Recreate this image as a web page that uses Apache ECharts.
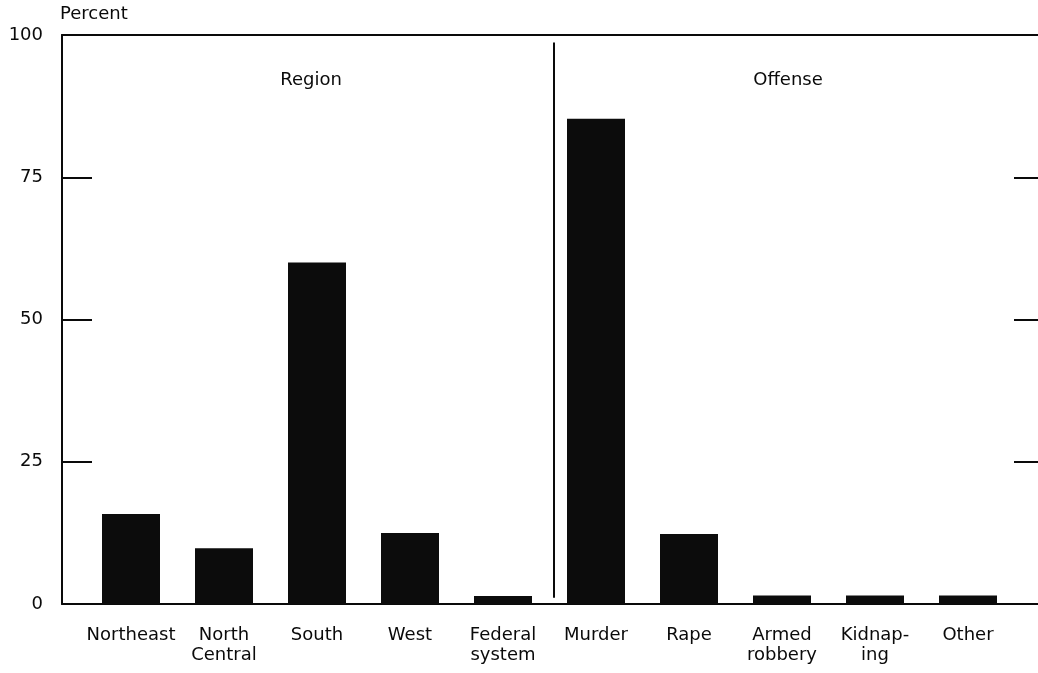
<!DOCTYPE html>
<html>
<head>
<meta charset="utf-8">
<script src="https://cdn.jsdelivr.net/npm/echarts@6/dist/echarts.min.js"></script>
<style>
  html, body { margin: 0; padding: 0; background: #fff; }
  #chart { width: 1038px; height: 673px; }
</style>
</head>
<body>
<div id="chart"></div>
<script>
// data
var categories = ['Northeast', 'North\nCentral', 'South', 'West', 'Federal\nsystem',
  'Murder', 'Rape', 'Armed\nrobbery', 'Kidnap-\ning', 'Other'];
var percents = [15.8, 9.8, 60, 12.5, 1.4, 85.3, 12.3, 1.5, 1.5, 1.5];
var yTicks = [0, 25, 50, 75, 100];
var groupNames = ['Region', 'Offense'];

var ink = '#0a0a0a';
var font = 'DejaVu Sans';

var chart = echarts.init(document.getElementById('chart'));

// frame lines shared by the sides
var frameLine = { show: true, onZero: false, lineStyle: { color: ink, width: 2 } };

var option = {
  animation: false,
  backgroundColor: '#fff',
  grid: [
    // frame with the ticks (right edge runs off the page)
    { left: 62, top: 35, right: 0, bottom: 69 },
    // bars sit in a narrower band
    { left: 84.5, top: 35, width: 930, bottom: 69 }
  ],
  xAxis: [
    { gridIndex: 0, type: 'value', min: 0, max: 1, position: 'bottom',
      axisLine: frameLine, axisTick: { show: false }, axisLabel: { show: false }, splitLine: { show: false } },
    { gridIndex: 0, type: 'value', min: 0, max: 1, position: 'top',
      axisLine: frameLine, axisTick: { show: false }, axisLabel: { show: false }, splitLine: { show: false } },
    { gridIndex: 1, type: 'category', data: categories,
      axisLine: { show: false }, axisTick: { show: false },
      axisLabel: { color: ink, fontFamily: font, fontSize: 18, lineHeight: 20, margin: 21, interval: 0 } }
  ],
  yAxis: [
    { gridIndex: 0, type: 'value', min: yTicks[0], max: yTicks[yTicks.length - 1], interval: 25,
      name: 'Percent', nameLocation: 'end', nameGap: 21,
      nameTextStyle: { color: ink, fontFamily: font, fontSize: 18, align: 'left', verticalAlign: 'middle', padding: [0, 0, 0, -2] },
      axisLine: frameLine,
      axisTick: { show: true, inside: true, length: 30, lineStyle: { color: ink, width: 2 } },
      axisLabel: { color: ink, fontFamily: font, fontSize: 18, margin: 19 },
      splitLine: { show: false } },
    { gridIndex: 0, type: 'value', position: 'right', min: yTicks[0], max: yTicks[yTicks.length - 1], interval: 25,
      axisLine: { show: false, onZero: false },
      axisTick: { show: true, inside: true, length: 24, lineStyle: { color: ink, width: 2 } },
      axisLabel: { show: false }, splitLine: { show: false } },
    { gridIndex: 1, type: 'value', min: 0, max: 100, show: false }
  ],
  series: [{
    type: 'bar',
    xAxisIndex: 2,
    yAxisIndex: 2,
    barWidth: 58,
    data: percents,
    itemStyle: { color: '#0c0c0c' }
  }]
};
chart.setOption(option);

// divider and group titles, placed from the bar axes
var fed = chart.convertToPixel({ xAxisIndex: 2 }, categories[4]);
var mur = chart.convertToPixel({ xAxisIndex: 2 }, categories[5]);
var midX = (fed + mur) / 2 + 4.5;
var yTop = chart.convertToPixel({ yAxisIndex: 2 }, 98.7);
var yBot = chart.convertToPixel({ yAxisIndex: 2 }, 1.1);
var yTitle = chart.convertToPixel({ yAxisIndex: 2 }, 92.1);
var regionX = chart.convertToPixel({ xAxisIndex: 2 }, categories[2]) - 6;
var offenseX = chart.convertToPixel({ xAxisIndex: 2 }, categories[7]) + 6;

chart.setOption({
  graphic: [
    { type: 'line', shape: { x1: midX, y1: yTop, x2: midX, y2: yBot },
      style: { stroke: ink, lineWidth: 2 } },
    { type: 'text', x: regionX, y: yTitle,
      style: { text: groupNames[0], fill: ink, font: '18px "DejaVu Sans"', textAlign: 'center', textVerticalAlign: 'middle' } },
    { type: 'text', x: offenseX, y: yTitle,
      style: { text: groupNames[1], fill: ink, font: '18px "DejaVu Sans"', textAlign: 'center', textVerticalAlign: 'middle' } }
  ]
});
</script>
</body>
</html>
